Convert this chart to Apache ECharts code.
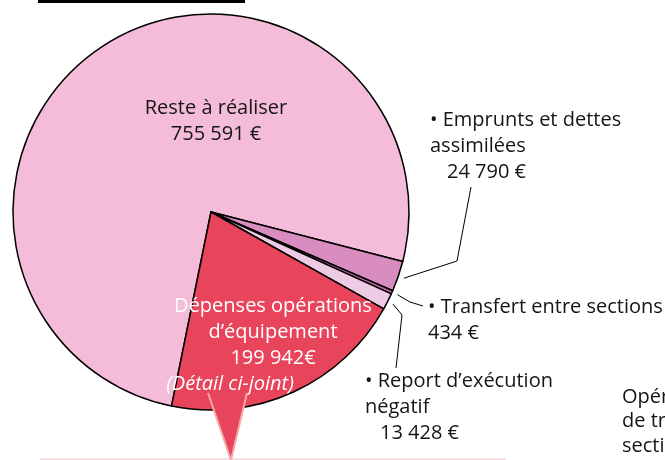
<!DOCTYPE html>
<html>
<head>
<meta charset="utf-8">
<script src="https://cdn.jsdelivr.net/npm/echarts@6/dist/echarts.min.js"></script>
<style>
  html, body { margin: 0; background: #fff; }
  #chart { width: 665px; height: 460px; }
</style>
</head>
<body>
<div id="chart"></div>
<script>
// données
var categories = ['Reste à réaliser', 'Emprunts et dettes assimilées', 'Transfert entre sections', 'Report d’exécution négatif', 'Dépenses opérations d’équipement'];
var values = [755591, 24790, 434, 13428, 199942];
var labelNames = ['Reste à réaliser', '• Emprunts et dettes\nassimilées', '• Transfert entre sections', '• Report d’exécution\nnégatif', 'Dépenses opérations\nd’équipement'];
var noteText = '(Détail ci-joint)';
var sideText = ['Opérations', 'de transfert entre', 'sections'];

var colors = ['#f5bcd9', '#d98cbf', '#c76aa6', '#edcbe4', '#e8445b'];
var FONT = '"Open Sans", "Noto Sans", sans-serif';
var FS = 20;

function fmt(v) {
  return String(v).replace(/\B(?=(\d{3})+(?!\d))/g, ' ');
}

// position des étiquettes : [x, y, align]
var labelPos = [
  [216, 121, 'center'],
  [430, 146, 'left'],
  [428, 320, 'left'],
  [365, 407, 'left'],
  [273, 345, 'center']
];
// points des traits de rappel (après le point de départ sur la part)
var guidePts = [
  null,
  [[457, 261], [471, 187]],
  [[410, 302], [423, 306]],
  [[402, 315], [396, 368]],
  null
];

function labelText(i) {
  var lines = labelNames[i].split('\n').map(function (s) { return '{n|' + s + '}'; });
  if (i === 4) {
    return lines.join('\n') + '\n{n|' + fmt(values[i]) + '€}\n{i|' + noteText + '}';
  }
  var vtag = (i === 1 || i === 3) ? 'v' + i : 'n';
  return lines.join('\n') + '\n{' + vtag + '|' + fmt(values[i]) + ' €}';
}

var pieData = categories.map(function (c, i) {
  var inside = (i === 0 || i === 4);
  var col = i === 4 ? '#fff' : '#151515';
  return {
    name: c,
    value: values[i],
    itemStyle: { color: colors[i] },
    label: {
      position: inside ? 'inside' : 'outside',
      formatter: labelText(i),
      rich: {
        n: { fontFamily: FONT, fontSize: FS, lineHeight: 26, color: col },
        v1: { fontFamily: FONT, fontSize: FS, lineHeight: 26, color: col, padding: [0, 0, 0, 17] },
        v3: { fontFamily: FONT, fontSize: FS, lineHeight: 26, color: col, padding: [0, 0, 0, 15] },
        i: { fontFamily: FONT, fontSize: FS, lineHeight: 26, color: col, fontStyle: 'italic', padding: [0, 86, 0, 0] }
      }
    }
  };
});

var myChart = echarts.init(document.getElementById('chart'));
myChart.setOption({
  animation: false,
  series: [{
    type: 'pie',
    center: [211, 212],
    radius: 198,
    startAngle: 258.5,
    clockwise: true,
    minAngle: 1,
    avoidLabelOverlap: false,
    silent: true,
    itemStyle: { borderColor: '#000', borderWidth: 1.5 },
    label: { show: true },
    labelLine: { show: true, length: 10, length2: 10, smooth: false, lineStyle: { color: '#000', width: 1 } },
    labelLayout: function (params) {
      var i = params.dataIndex;
      var p = labelPos[i];
      var out = { x: p[0], y: p[1], align: p[2], verticalAlign: 'middle' };
      if (guidePts[i] && params.labelLinePoints) {
        var s = params.labelLinePoints[0];
        var start = [211 + (s[0] - 211) * 1.03, 212 + (s[1] - 212) * 1.03];
        out.labelLinePoints = [start].concat(guidePts[i]);
      }
      return out;
    },
    data: pieData
  }],
  graphic: [
    { type: 'rect', shape: { x: 38, y: 0, width: 207, height: 3 }, style: { fill: '#000' } },
    { type: 'line', shape: { x1: 40, y1: 459, x2: 506, y2: 459 }, style: { stroke: '#f6d3da', lineWidth: 1.5 } },
    { type: 'polygon', z: 3, shape: { points: [[208, 393], [247, 393], [231, 460]] }, style: { fill: colors[4] } },
    { type: 'polyline', z: 3, shape: { points: [[208, 393], [231, 460], [247, 393]] }, style: { stroke: '#f7a9a9', lineWidth: 2, fill: null } },
    {
      type: 'text', left: 622, top: 385,
      style: { text: sideText.join('\n'), font: FS + 'px ' + FONT, lineHeight: 24.5, fill: '#151515' }
    }
  ]
});
</script>
</body>
</html>
